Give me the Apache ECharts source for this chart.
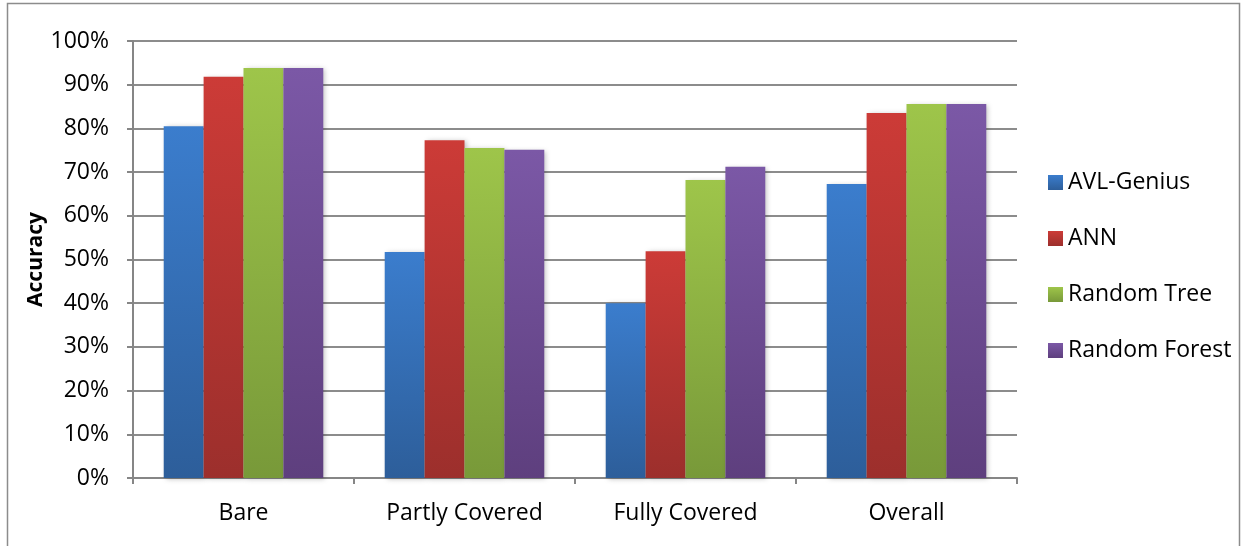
<!DOCTYPE html>
<html>
<head>
<meta charset="utf-8">
<script src="https://cdn.jsdelivr.net/npm/echarts@6/dist/echarts.min.js"></script>
<style>
  html, body { margin: 0; padding: 0; background: #fff; }
  #chart { width: 1241px; height: 546px; }
</style>
</head>
<body>
<div id="chart"></div>
<script>
// Accuracy (%) per coverage condition for each classifier
const categories = ['Bare', 'Partly Covered', 'Fully Covered', 'Overall'];
const avlGenius = [80.5, 51.7, 40.0, 67.3];
const ann = [91.8, 77.3, 51.9, 83.5];
const randomTree = [93.8, 75.5, 68.2, 85.6];
const randomForest = [93.8, 75.1, 71.2, 85.6];
const seriesNames = ['AVL-Genius', 'ANN', 'Random Tree', 'Random Forest'];

const FONT = '"Open Sans", "DejaVu Sans", sans-serif';

function grad(top, bottom) {
  return new echarts.graphic.LinearGradient(0, 0, 0, 1, [
    { offset: 0, color: top },
    { offset: 1, color: bottom }
  ]);
}

const palette = [
  grad('#3b7dcd', '#2d5e9a'),
  grad('#cc3b37', '#9c2f2c'),
  grad('#9ec54a', '#789939'),
  grad('#7b58a6', '#5e3f7e')
];

const seriesData = [avlGenius, ann, randomTree, randomForest];

const chart = echarts.init(document.getElementById('chart'), null, { renderer: 'canvas' });

chart.setOption({
  animation: false,
  backgroundColor: '#ffffff',
  graphic: [{
    type: 'rect',
    shape: { x: 7.5, y: 3.5, width: 1232, height: 600 },
    style: { fill: 'none', stroke: '#8c8c8c', lineWidth: 1.5 },
    silent: true,
    z: 0
  }],
  grid: { left: 133, right: 224, top: 41, bottom: 68 },
  legend: {
    orient: 'vertical',
    left: 1043,
    top: 166,
    itemWidth: 15,
    itemHeight: 15,
    itemGap: 33,
    icon: 'rect',
    data: seriesNames,
    textStyle: { fontFamily: FONT, fontSize: 23, color: '#000', lineHeight: 23, padding: [0, 0, 0, 0] }
  },
  xAxis: {
    type: 'category',
    data: categories,
    axisLine: { show: true, lineStyle: { color: '#868686', width: 2 } },
    axisTick: { show: true, length: 6, lineStyle: { color: '#868686', width: 2 } },
    axisLabel: { fontFamily: FONT, fontSize: 23, color: '#000', margin: 24 },
    splitLine: { show: false }
  },
  yAxis: {
    type: 'value',
    min: 0,
    max: 100,
    interval: 10,
    name: 'Accuracy',
    nameLocation: 'middle',
    nameGap: 86,
    nameMoveOverlap: false,
    nameRotate: 90,
    nameTextStyle: { fontFamily: FONT, fontSize: 21, fontWeight: 'bold', color: '#000' },
    axisLine: { show: true, lineStyle: { color: '#868686', width: 2 } },
    axisTick: { show: true, length: 6, lineStyle: { color: '#868686', width: 2 } },
    axisLabel: { fontFamily: FONT, fontSize: 23, color: '#000', margin: 24, formatter: '{value}%' },
    splitLine: { show: true, lineStyle: { color: '#8c8c8c', width: 2 } }
  },
  series: seriesNames.map((name, i) => ({
    name: name,
    type: 'bar',
    data: seriesData[i],
    barGap: '0%',
    barCategoryGap: '27.8%',
    itemStyle: {
      color: palette[i],
      shadowColor: 'rgba(0,0,0,0.25)',
      shadowBlur: 5,
      shadowOffsetX: 2,
      shadowOffsetY: 1
    }
  }))
});
</script>
</body>
</html>
